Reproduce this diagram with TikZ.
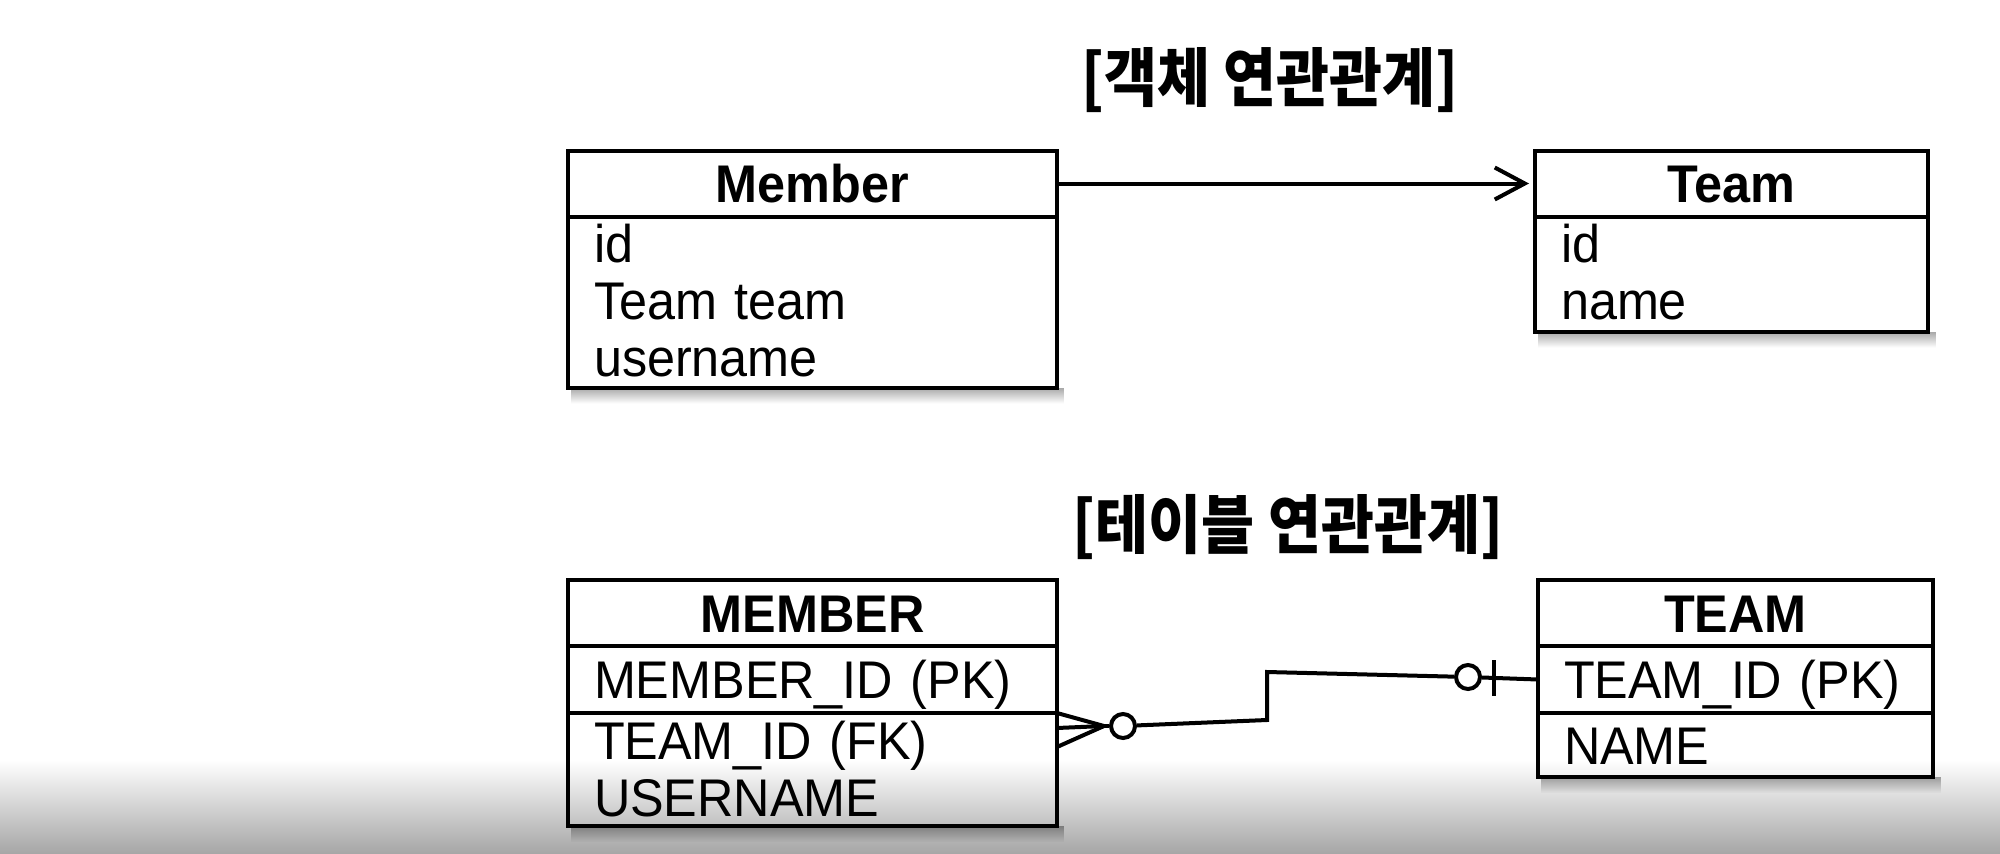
\documentclass[tikz,border=0pt]{standalone}
\usepackage{fontspec}
\setmainfont{Liberation Sans}[FakeStretch=0.95]
\newfontfamily\kofont{Noto Sans CJK KR}[FakeStretch=0.9]
\usetikzlibrary{arrows.meta, positioning, fadings}

\begin{document}
\begin{tikzpicture}[
  x=1pt, y=-1pt,
  title/.style={font=\kofont\bfseries\fontsize{64}{70}\selectfont},
  hd/.style={draw, line width=4pt, outer sep=0pt, inner sep=0pt,
    minimum width=#1, minimum height=66pt,
    font=\bfseries\fontsize{53}{57}\selectfont, text height=38pt, text depth=0pt},
  cell/.style={draw, line width=4pt, outer sep=0pt, inner xsep=26pt, inner ysep=8pt,
    text width=#1, align=left,
    font=\fontsize{53}{57}\selectfont, text height=38pt, text depth=0pt},
  conn/.style={line width=4pt},
  ring/.style={circle, draw, line width=4pt, minimum size=24pt, inner sep=0pt},
  shadowfade/.style={fill=black, opacity=.35, path fading=south}
]
\useasboundingbox (0,0) rectangle (2000,854);
\shade[top color=white, bottom color=black!35] (0,760) rectangle (2000,854);

% object model
\node[title] (objtitle) at (1270,80) {[객체 연관관계]};
\node[hd=489pt] (memhd) at (812.5,183.5) {Member};
\node[cell=437pt, text depth=117pt, below=0pt of memhd] (membody) {id\\Team team\\username};
\node[hd=393pt] (teamhd) at (1731.5,183.5) {Team};
\node[cell=341pt, text depth=61pt, below=0pt of teamhd] (teambody) {id\\name};

\draw[conn, -{Straight Barb[length=30pt, width=32pt]}, shorten >=6pt] (memhd) -- (teamhd);

% table model
\node[title] (tbltitle) at (1288,527) {[테이블 연관관계]};
\node[hd=489pt] (MEMhd) at (812.5,613) {MEMBER};
\node[cell=437pt, inner ysep=14.5pt, below=0pt of MEMhd] (memid) {MEMBER\_ID (PK)};
\node[cell=437pt, text depth=59pt, below=0pt of memid] (memfk) {TEAM\_ID (FK)\\USERNAME};
\node[hd=395pt] (TEAMhd) at (1735.5,613) {TEAM};
\node[cell=343pt, inner ysep=14.5pt, below=0pt of TEAMhd] (teamid) {TEAM\_ID (PK)};
\node[cell=343pt, inner ysep=13pt, below=0pt of teamid] (teamname) {NAME};

% many, optional
\coordinate (foot) at (1104,726);
\node[ring] (o1) at (1123,726) {};
\draw[conn] (memfk.north east) -- (foot);
\draw[conn] ([yshift=-15pt]memfk.north east) -- (foot);
\draw[conn] ([yshift=-34pt]memfk.north east) -- (foot);
\draw[conn] (foot) -- (o1);

% one, optional
\coordinate (bend1) at (1267,720);
\coordinate (bend2) at (1267,672);
\node[ring] (o2) at (1468,677) {};
\coordinate (bar) at (1494,678);
\draw[conn] (o1) -- (bend1) -- (bend2) -- (o2);
\draw[conn] (o2) -- (teamid.west);
\draw[conn] ([yshift=18pt]bar) -- ([yshift=-18pt]bar);

\foreach \b in {membody, teambody, memfk, teamname}
  \fill[shadowfade] ([xshift=3pt]\b.south west) rectangle ([xshift=8pt, yshift=-16pt]\b.south east);
\end{tikzpicture}
\end{document}
